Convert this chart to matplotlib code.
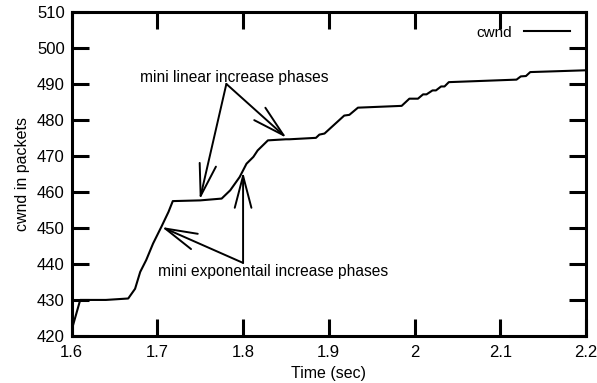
import matplotlib
matplotlib.use("Agg")
import matplotlib.pyplot as plt

# cwnd trace
time_sec = [1.600, 1.610, 1.640, 1.666, 1.674, 1.680, 1.687, 1.695, 1.705, 1.713,
            1.718, 1.750, 1.775, 1.785, 1.796, 1.804, 1.812, 1.817, 1.829, 1.850,
            1.854, 1.885, 1.889, 1.895, 1.918, 1.924, 1.934, 1.985, 1.994, 2.004,
            2.010, 2.014, 2.021, 2.025, 2.031, 2.035, 2.040, 2.119, 2.124, 2.130,
            2.135, 2.200]
cwnd = [421.5, 429.9, 429.9, 430.3, 433.0, 437.7, 441.0, 445.6, 450.4, 454.4,
        457.4, 457.6, 458.1, 460.4, 464.1, 467.8, 469.7, 471.5, 474.3, 474.6,
        474.6, 475.0, 475.9, 476.2, 481.2, 481.4, 483.4, 483.9, 485.9, 485.9,
        487.1, 487.1, 488.2, 488.2, 489.3, 489.3, 490.5, 491.2, 492.1, 492.2,
        493.3, 493.8]

x_ticks = [1.6, 1.7, 1.8, 1.9, 2.0, 2.1, 2.2]
x_tick_labels = ["1.6", "1.7", "1.8", "1.9", "2", "2.1", "2.2"]
y_ticks = [420, 430, 440, 450, 460, 470, 480, 490, 500, 510]

linear_text = "mini linear increase phases"
linear_text_pos = (1.790, 491.8)
linear_origin = (1.7805, 490.0)
linear_tips = [(1.7495, 457.8), (1.8506, 475.0)]

expo_text = "mini exponentail increase phases"
expo_text_pos = (1.8346, 437.9)
expo_origin = (1.800, 440.2)
expo_tips = [(1.705, 450.2), (1.800, 465.5)]

plt.rcParams["font.family"] = ["Liberation Sans", "DejaVu Sans"]

fig = plt.figure(figsize=(5.97, 3.83), dpi=100)
ax = fig.add_axes([0.120, 0.124, 0.8615, 0.8445])

ax.plot(time_sec, cwnd, color="black", lw=1.5, label="cwnd")

ax.set_xlim(1.6, 2.2)
ax.set_ylim(420, 510)
ax.set_xticks(x_ticks)
ax.set_xticklabels(x_tick_labels)
ax.set_yticks(y_ticks)
ax.tick_params(direction="in", length=12, width=2.2, labelsize=12,
               top=True, right=True)
ax.tick_params(axis="x", pad=7)
ax.tick_params(axis="y", pad=5)
for s in ax.spines.values():
    s.set_linewidth(2.2)

ax.set_xlabel("Time (sec)", fontsize=11.5, labelpad=4)
ax.set_ylabel("cwnd in packets", fontsize=11.5, labelpad=5)

arrow_style = dict(arrowstyle="->,head_length=2.3,head_width=0.6",
                   mutation_scale=10, lw=1.4, color="black",
                   shrinkA=0, shrinkB=0)

ax.text(*linear_text_pos, linear_text, fontsize=11.2, ha="center", va="center")
for tip in linear_tips:
    ax.annotate("", xy=tip, xytext=linear_origin, arrowprops=arrow_style)

ax.text(*expo_text_pos, expo_text, fontsize=11.2, ha="center", va="center")
for tip in expo_tips:
    ax.annotate("", xy=tip, xytext=expo_origin, arrowprops=arrow_style)

ax.legend(loc="upper right", frameon=False, markerfirst=False, fontsize=11,
          handlelength=3.0, bbox_to_anchor=(0.995, 1.0))

fig.savefig("out.png", dpi=100)
